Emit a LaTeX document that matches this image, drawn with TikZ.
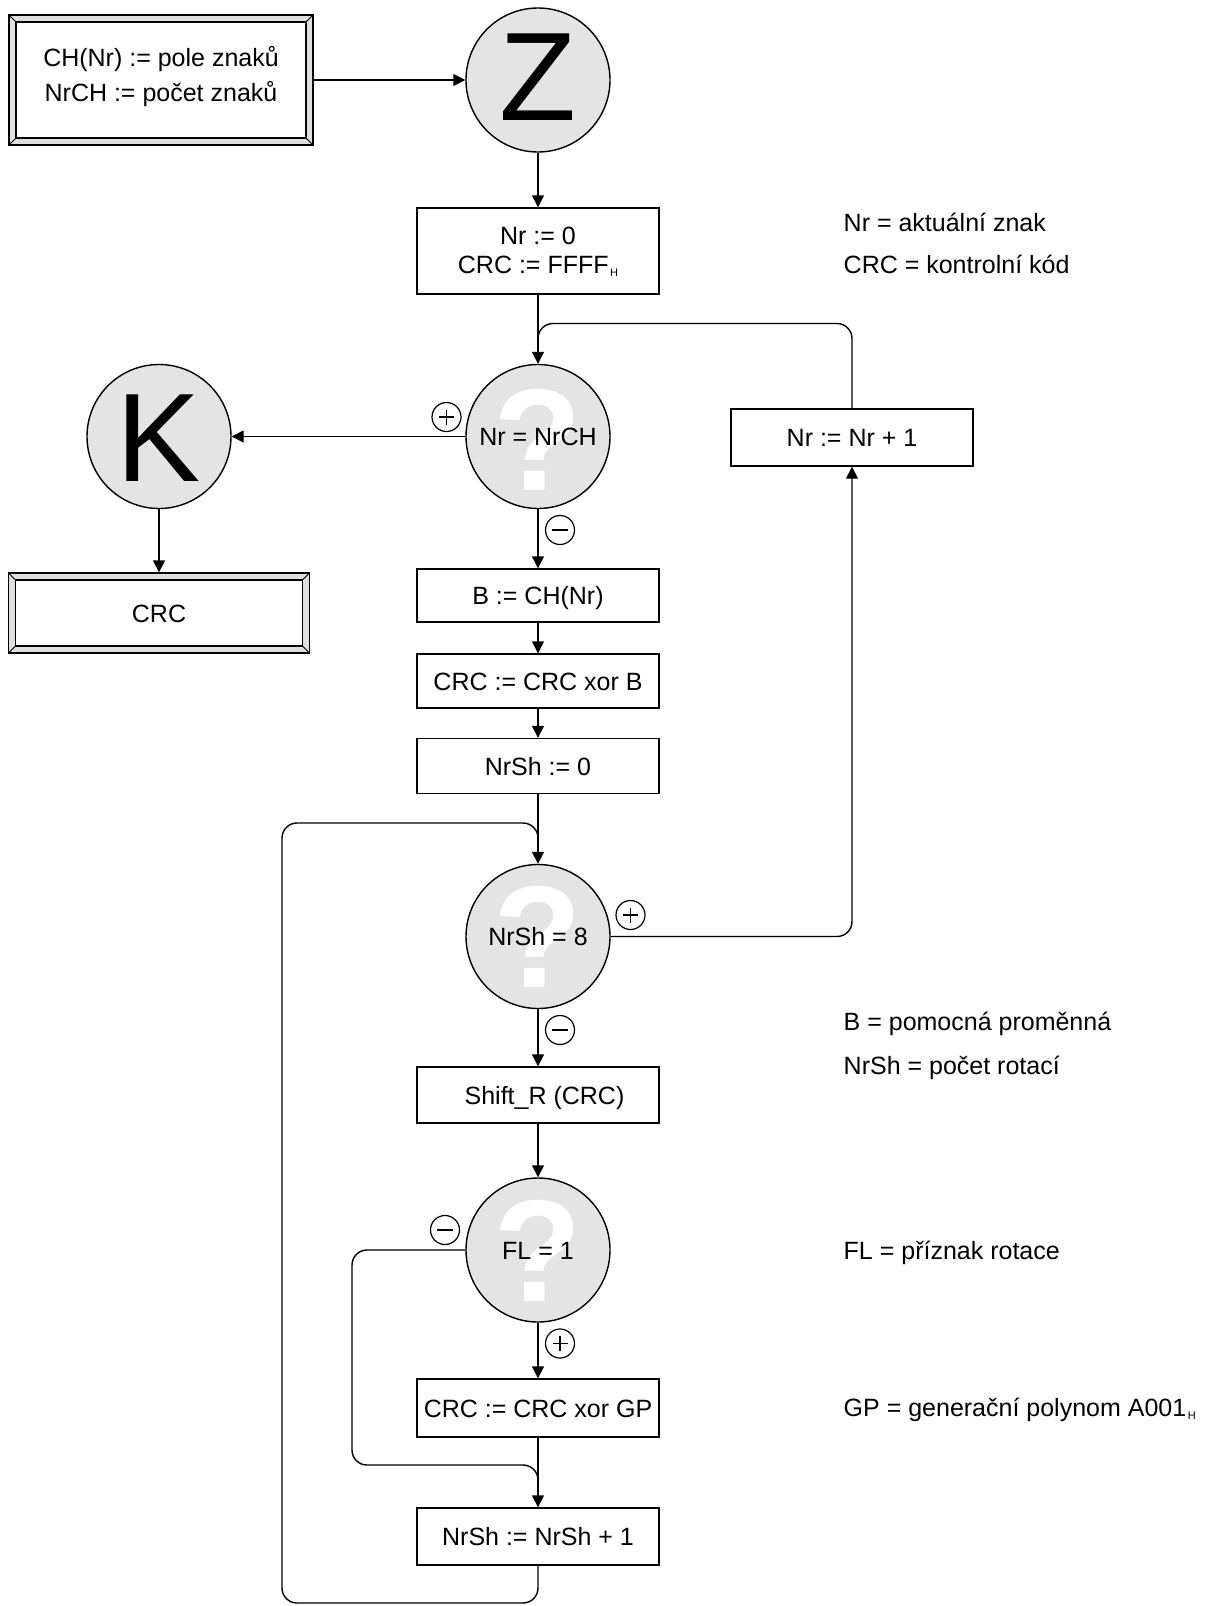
\documentclass[tikz,border=0pt]{standalone}
\usepackage{fontspec}
\setmainfont{Liberation Sans}
\usetikzlibrary{arrows.meta,calc}
\definecolor{cfill}{HTML}{E4E4E4}
\definecolor{bfill}{HTML}{DEDEDE}
\newcommand{\subH}{\kern1.5pt\raisebox{-3pt}{\fontsize{11}{11}\selectfont H}}
\begin{document}
\begin{tikzpicture}[x=1pt,y=-1pt,line width=1.4pt,
  txt/.style={font=\fontsize{25}{32}\selectfont, inner sep=0pt},
  lbl/.style={txt, text height=19pt, text depth=1pt},
  proc/.style={draw, fill=white, minimum width=242pt, inner sep=0pt,
    font=\fontsize{25}{32}\selectfont, text height=19pt, text depth=1pt},
  dec/.style={circle, draw, fill=cfill, minimum size=144pt, inner sep=0pt},
  qmark/.style={text=white, font=\fontsize{145}{145}\selectfont\bfseries, inner sep=0pt},
  term/.style={circle, draw, fill=cfill, minimum size=144pt, inner sep=0pt,
    font=\fontsize{126}{126}\selectfont, text height=90pt, text depth=0pt},
  bevel/.style={draw, fill=bfill, inner sep=0pt,
    font=\fontsize{25}{32}\selectfont, text height=19pt, text depth=1pt,
    path picture={
      \fill[white] ([shift={(7pt,-7pt)}]path picture bounding box.north west) rectangle ([shift={(-7pt,7pt)}]path picture bounding box.south east);
      \draw[line width=1.2pt] ([shift={(7pt,-7pt)}]path picture bounding box.north west) rectangle ([shift={(-7pt,7pt)}]path picture bounding box.south east);
      \draw[line width=1pt] (path picture bounding box.north west) -- ++(7pt,-7pt)
        (path picture bounding box.north east) -- ++(-7pt,-7pt)
        (path picture bounding box.south west) -- ++(7pt,7pt)
        (path picture bounding box.south east) -- ++(-7pt,7pt);
    }},
  sgnbase/.style={circle, draw, line width=1.2pt, minimum size=29pt, inner sep=0pt},
  plus/.style={sgnbase, path picture={
      \draw[line width=1.2pt] ([xshift=-7.5pt]path picture bounding box.center) -- ([xshift=7.5pt]path picture bounding box.center)
        ([yshift=-7.5pt]path picture bounding box.center) -- ([yshift=7.5pt]path picture bounding box.center);}},
  minus/.style={sgnbase, path picture={
      \draw[line width=1.2pt] ([xshift=-8pt]path picture bounding box.center) -- ([xshift=8pt]path picture bounding box.center);}},
  arr/.style={-{Triangle[length=12pt,width=12pt]}},
  rc/.style={rounded corners=15pt},
  note/.style={txt, anchor=base west}
]
\useasboundingbox (0,0) rectangle (1205,1606);

% start
\node[bevel, minimum width=304pt, minimum height=130pt] (start) at (161,80) {};
\node[txt, align=center, font=\fontsize{25}{35}\selectfont] (startt) at (161,77) {CH(Nr) := pole znaků\\NrCH := počet znaků};
\node[term, text depth=10pt] (z) at (538,80) {Z};

% init
\node[proc, minimum height=86pt] (init) at (538,251) {};
\node[txt, align=center, font=\fontsize{25}{29}\selectfont] (initt) at (538,252) {Nr := 0\\CRC := FFFF\subH};

% decision 1
\node[dec] (d1) at (538,436.5) {};
\node[qmark] (q1) at (538,440) {?};
\node[lbl] (d1t) at (538,436.5) {Nr = NrCH};

% K and output
\node[term] (k) at (159,436.5) {K};
\node[bevel, minimum width=301pt, minimum height=80pt] (crcout) at (159,613) {CRC};

% Nr := Nr + 1
\node[proc, minimum height=57pt] (nrinc) at (852,437.5) {Nr := Nr + 1};

% process chain
\node[proc, minimum height=53pt] (bb) at (538,595.5) {B := CH(Nr)};
\node[proc, minimum height=54pt] (xorb) at (538,681) {CRC := CRC xor B};
\node[proc, minimum height=55pt] (sh0) at (538,766) {NrSh := 0};

% decision 2
\node[dec] (d2) at (538,936.5) {};
\node[qmark] (q2) at (538,937) {?};
\node[lbl] (d2t) at (538,936.5) {NrSh = 8};

\node[proc, minimum height=56pt] (shift) at (538,1095) {\hspace*{13pt}Shift\_R (CRC)};

% decision 3
\node[dec] (d3) at (538,1250) {};
\node[qmark] (q3) at (538,1251) {?};
\node[lbl] (d3t) at (538,1250) {FL = 1};

\node[proc, minimum height=58pt] (gp) at (538,1408) {CRC := CRC xor GP};
\node[proc, minimum height=57pt] (inc) at (538,1536.5) {NrSh := NrSh + 1};

% signs
\node[plus] (s1) at (446.5,417) {};
\node[minus] (s2) at (560,530) {};
\node[plus] (s3) at (630.5,915) {};
\node[minus] (s4) at (560,1030) {};
\node[minus] (s5) at (445,1230) {};
\node[plus] (s6) at (560,1343.5) {};

% notes
\node[note] (n1) at (843,231.5) {Nr = aktuální znak};
\node[note] (n2) at (843,273) {CRC = kontrolní kód};
\node[note] (n3) at (843,1030.5) {B = pomocná proměnná};
\node[note] (n4) at (843,1074) {NrSh = počet rotací};
\node[note] (n5) at (843,1259) {FL = příznak rotace};
\node[note] (n6) at (843,1416) {GP = generační polynom A001\subH};

% connectors
\coordinate (j1) at (538,323.5);
\coordinate (j1e) at (538,350);
\coordinate (j2) at (538,823);
\coordinate (j2e) at (538,850);
\coordinate (c3) at (352,1465);
\coordinate (j3) at (538,1465);
\coordinate (j3e) at (538,1490);
\coordinate (c4) at (282,1603);

\draw[rc] (nrinc.north) |- (j1) -- (j1e);
\draw[rc] (inc.south) |- (c4) |- (j2) -- (j2e);
\draw[rc] (d3.west) -| (c3) -- (j3) -- (j3e);

\draw[arr] (start.east) -- (z.west);
\draw[arr] (z.south) -- (init.north);
\draw[arr] (init.south) -- (d1.north);
\draw[arr] (d1.west) -- (k.east);
\draw[arr] (k.south) -- (crcout.north);
\draw[arr] (d1.south) -- (bb.north);
\draw[arr] (bb.south) -- (xorb.north);
\draw[arr] (xorb.south) -- (sh0.north);
\draw[arr] (sh0.south) -- (d2.north);
\draw[arr, rc] (d2.east) -| (nrinc.south);
\draw[arr] (d2.south) -- (shift.north);
\draw[arr] (shift.south) -- (d3.north);
\draw[arr] (d3.south) -- (gp.north);
\draw[arr] (gp.south) -- (inc.north);
\end{tikzpicture}
\end{document}
